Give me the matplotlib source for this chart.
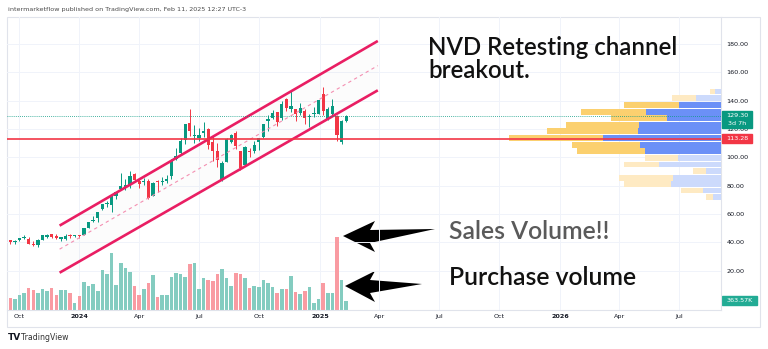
import matplotlib
matplotlib.use('Agg')
import matplotlib.pyplot as plt
import matplotlib.dates as mdates
import matplotlib.transforms as mtransforms
from matplotlib.patches import Polygon, Rectangle
import pandas as pd

W, H = 768, 349

# ---------------- data ----------------
week_start = '2023-09-18'
opens = [41.5, 40.2, 41.5, 43.0, 42.6, 39.1, 37.9, 42.1, 44.2, 45.8,
         44.3, 42.3, 42.8, 45.6, 44.5, 45.0, 45.2, 50.5, 55.3, 57.4,
         63.3, 67.4, 66.5, 72.9, 77.9, 79.3, 80.2, 88.0, 83.3, 82.5,
         83.6, 73.0, 83.0, 82.6, 83.2, 86.6, 98.6, 102.8, 112.5, 124.3,
         115.0, 113.9, 117.4, 120.0, 110.9, 104.3, 84.3, 96.6, 111.2, 117.3,
         104.7, 94.8, 104.7, 104.5, 111.0, 114.2, 125.8, 127.8, 132.0, 128.0,
         141.1, 133.9, 134.3, 131.3, 132.4, 128.7, 130.7, 130.9, 145.0, 126.6,
         130.3, 129.0, 111.1, 125.8]
highs = [42.0, 41.5, 43.5, 45.2, 44.2, 41.1, 42.2, 45.3, 46.3, 46.2,
         46.3, 44.1, 46.3, 45.8, 45.2, 45.1, 50.2, 54.6, 58.5, 61.3,
         66.9, 69.3, 73.4, 75.9, 89.0, 84.5, 90.1, 88.8, 85.1, 85.2,
         84.6, 82.9, 84.1, 85.9, 87.4, 98.6, 106.7, 113.4, 123.4, 134.0,
         122.7, 120.6, 125.0, 120.8, 114.9, 110.3, 97.5, 113.6, 116.3, 118.8,
         104.7, 108.2, 106.3, 111.9, 114.0, 123.4, 129.9, 133.7, 132.1, 139.7,
         142.0, 146.7, 134.4, 138.6, 133.8, 130.5, 135.3, 140.7, 149.4, 135.2,
         140.9, 130.0, 126.2, 129.9]
lows = [39.0, 38.8, 40.8, 42.2, 39.0, 37.4, 36.7, 41.9, 43.5, 43.4,
        42.4, 41.4, 41.7, 43.4, 44.1, 43.2, 45.0, 50.1, 54.4, 54.6,
        62.6, 65.0, 61.2, 71.0, 77.3, 77.1, 78.6, 82.9, 78.5, 80.8,
        70.9, 72.9, 75.5, 80.8, 82.3, 85.0, 98.2, 102.1, 109.3, 115.2,
        110.2, 111.6, 114.7, 105.7, 97.7, 93.0, 83.1, 96.5, 110.4, 105.6,
        91.1, 93.8, 100.4, 103.4, 104.9, 113.7, 118.6, 127.3, 122.0, 126.5,
        132.9, 131.7, 125.4, 130.1, 123.3, 121.7, 128.5, 130.7, 130.2, 126.1,
        129.6, 111.5, 109.4, 125.0]
closes = [40.2, 41.2, 43.4, 43.1, 39.1, 38.3, 42.1, 45.2, 45.2, 43.7,
          42.9, 44.1, 44.9, 44.4, 44.8, 44.9, 50.0, 54.6, 56.2, 61.3,
          66.9, 67.4, 72.8, 75.9, 80.0, 80.7, 87.2, 83.8, 81.2, 82.8,
          71.5, 82.0, 82.5, 83.5, 85.1, 98.2, 101.0, 111.9, 123.3, 118.4,
          115.3, 116.1, 118.5, 108.4, 104.2, 98.4, 95.9, 113.3, 115.7, 108.1,
          92.8, 107.6, 103.9, 108.8, 113.9, 123.2, 127.2, 131.0, 125.0, 137.7,
          134.7, 136.2, 130.8, 134.7, 127.9, 129.1, 131.4, 140.3, 132.6, 134.1,
          135.9, 115.9, 125.7, 129.3]
volume_k = [455, 429, 585, 676, 845, 780, 676, 806, 754, 871,
            585, 780, 780, 650, 260, 546, 1105, 936, 1014, 754,
            1586, 1430, 2249, 975, 1859, 1664, 1495, 936, 585, 819,
            1040, 1365, 520, 585, 585, 1300, 1456, 1430, 1300, 1820,
            1859, 806, 1235, 1170, 1131, 1430, 1625, 1235, 936, 1456,
            1430, 1274, 845, 936, 884, 1170, 1066, 884, 650, 819,
            819, 1339, 689, 624, 741, 884, 260, 416, 1066, 676,
            676, 2860, 1170, 364]

tick_dates = ['2023-10-01', '2024-01-01', '2024-04-01', '2024-07-01', '2024-10-01',
              '2025-01-01', '2025-04-01', '2025-07-01', '2025-10-01', '2026-01-01',
              '2026-04-01', '2026-07-01']
tick_labels = ['Oct', '2024', 'Apr', 'Jul', 'Oct', '2025', 'Apr', 'Jul', 'Oct', '2026', 'Apr', 'Jul']
price_ticks = [20, 40, 60, 80, 100, 120, 140, 160, 180]

channel_dates = ['2023-12-02', '2025-03-30']
channel_upper = [51.9, 182.1]
channel_lower = [18.7, 147.3]

support_level = 113.28
last_price = 129.30
countdown = '3d 7h'
last_volume_label = '363.57K'

vp_prices = [146.5, 142.1, 137.0, 132.3, 127.6, 123.1, 118.4, 113.7, 109.0,
             104.3, 99.6, 95.0, 90.4, 85.7, 81.1, 76.7, 72.3]
vp_up = [5.7, 24.7, 41.7, 75, 53.7, 81.7, 83.4, 117.7, 81, 76, 42.7, 61.7,
         15, 48.4, 50, 18.4, 8.4]
vp_down = [5, 24, 55, 65, 56.3, 73.3, 91, 94.7, 67.7, 68, 33.3, 35, 12.7,
           54, 46.7, 21.6, 6.6]
vp_in_value_area = [False, False, True, True, True, True, True, True, True,
                    True, False, False, False, False, False, False, False]

header = 'intermarketflow published on TradingView.com, Feb 11, 2025 12:27 UTC-3'

# ---------------- helpers ----------------
def fx(px):
    return px / W

def fy(py):
    return 1 - py / H

UP = '#089981'
DOWN = '#f23645'
CHAN = '#e91e63'
TXT = '#131722'
BIG = ['Lato', 'DejaVu Sans']

dates = pd.date_range(week_start, periods=len(closes), freq='7D')
xd = mdates.date2num(dates.to_pydatetime())

fig = plt.figure(figsize=(W / 100, H / 100), dpi=100)
fig.patch.set_facecolor('white')
rect = [fx(7), fy(310), (721 - 7) / W, (310 - 17) / H]

x0 = mdates.date2num(pd.Timestamp('2023-09-13'))
x1 = mdates.date2num(pd.Timestamp('2026-09-03'))
ylo, yhi = -7.6, 199.0

ax_vol = fig.add_axes(rect, zorder=1)
ax = fig.add_axes(rect, zorder=2)
ax_vp = fig.add_axes(rect, zorder=3)

# volume pane (bottom layer)
ax_vol.set_xlim(x0, x1)
ax_vol.set_ylim(0, max(volume_k) / 0.249)
ax_vol.axis('off')
tdates = mdates.date2num(pd.to_datetime(tick_dates).to_pydatetime())
for t in tdates:
    ax_vol.axvline(t, color='#f0f3fa', lw=0.7, zorder=0)
blend = mtransforms.blended_transform_factory(ax_vol.transAxes, ax.transData)
for p in price_ticks:
    ax_vol.plot([0, 1], [p, p], color='#f0f3fa', lw=0.7, transform=blend, zorder=0)
vcol = ['#84ccc0' if c >= o else '#f99ba2' for o, c in zip(opens, closes)]
ax_vol.bar(xd, volume_k, width=5.4, color=vcol, zorder=1)

# price pane
ax.set_xlim(x0, x1)
ax.set_ylim(ylo, yhi)
ax.patch.set_visible(False)
ccol = [UP if c >= o else DOWN for o, c in zip(opens, closes)]
ax.vlines(xd, lows, highs, colors=ccol, lw=0.7, zorder=3)
bodies_bottom = [min(o, c) for o, c in zip(opens, closes)]
bodies_h = [max(abs(c - o), 0.6) for o, c in zip(opens, closes)]
ax.bar(xd, bodies_h, bottom=bodies_bottom, width=5.0, color=ccol, zorder=4)

cd = mdates.date2num(pd.to_datetime(channel_dates).to_pydatetime())
channel_mid = [(u + l) / 2 for u, l in zip(channel_upper, channel_lower)]
ax.fill_between(cd, channel_lower, channel_upper, color='#9598a1', alpha=0.022, lw=0, zorder=2)
ax.plot(cd, channel_upper, color=CHAN, lw=1.9, solid_capstyle='butt', zorder=5)
ax.plot(cd, channel_lower, color=CHAN, lw=1.9, solid_capstyle='butt', zorder=5)
ax.plot(cd, channel_mid, color='#f48fb1', lw=0.8, dashes=(3, 3), zorder=5)

ax.set_xticks(tdates)
ax.set_xticklabels(tick_labels)
for lab in ax.get_xticklabels():
    if lab.get_text().startswith('20'):
        lab.set_fontweight('bold')
ax.tick_params(axis='x', length=0, pad=3.2, labelsize=4.6, colors=TXT)
ax.yaxis.tick_right()
ax.set_yticks(price_ticks)
ax.set_yticklabels(['%.2f' % p for p in price_ticks])
ax.tick_params(axis='y', length=0, pad=4, labelsize=4.6, colors=TXT)
for s in ['left', 'top']:
    ax.spines[s].set_visible(False)
for s in ['right', 'bottom']:
    ax.spines[s].set_color('#e0e3eb')
    ax.spines[s].set_linewidth(0.8)

# volume profile + horizontal lines (top layer)
ax_vp.set_xlim(714, 0)
ax_vp.set_ylim(ylo, yhi)
ax_vp.axis('off')
row_h = 4.15
for p, u, d, va in zip(vp_prices, vp_up, vp_down, vp_in_value_area):
    cu = '#6b90f7' if va else '#ccdafc'
    cdn = '#fbd06f' if va else '#feeac3'
    ax_vp.barh(p, u, height=row_h, left=0, color=cu, lw=0)
    ax_vp.barh(p, d, height=row_h, left=u, color=cdn, lw=0)
ax_vp.axhline(last_price, color=UP, lw=0.6, ls=(0, (1, 1.5)), zorder=6)
ax_vp.axhline(support_level, color=DOWN, lw=1.2, zorder=7)

# right-axis labels
ppx = 1 / 1.418
yt = mtransforms.blended_transform_factory(ax_vp.transAxes, ax_vp.transData)
def axfrac(px):
    return (px - 7) / 714
ax_vp.add_patch(Rectangle((axfrac(722), support_level - 4.7 * ppx), 30 / 714, 9.4 * ppx,
                          transform=yt, color=DOWN, clip_on=False, zorder=10))
ax_vp.text(axfrac(737), support_level, '%.2f' % support_level, transform=yt, color='white',
           fontsize=4.6, ha='center', va='center', clip_on=False, zorder=11)
ax_vp.add_patch(Rectangle((axfrac(722), last_price - 12 * ppx), 30 / 714, 17 * ppx,
                          transform=yt, color=UP, clip_on=False, zorder=10))
ax_vp.text(axfrac(737), last_price, '%.2f' % last_price, transform=yt, color='white',
           fontsize=4.6, ha='center', va='center', clip_on=False, zorder=11)
ax_vp.text(axfrac(737), last_price - 7.3 * ppx, countdown, transform=yt, color='white',
           fontsize=4.6, ha='center', va='center', clip_on=False, zorder=11)
vt = mtransforms.blended_transform_factory(ax_vol.transAxes, ax_vol.transData)
vpx = (max(volume_k) / 0.249) / 293
ax_vol.add_patch(Rectangle((axfrac(722), volume_k[-1] - 4.7 * vpx), 35 / 714, 9.4 * vpx,
                           transform=vt, color='#22ab94', clip_on=False, zorder=10))
ax_vol.text(axfrac(739.5), volume_k[-1], last_volume_label, transform=vt, color='white',
            fontsize=4.6, ha='center', va='center', clip_on=False, zorder=11)

# outer frame
fig.add_artist(Rectangle((fx(7), fy(327)), (760 - 7) / W, (327 - 17) / H,
                         transform=fig.transFigure, fill=False, ec='#e0e3eb', lw=0.8))

# texts
fig.text(fx(8), fy(10), header, fontsize=4.6, color='#4a4a4a', va='center')
fig.text(fx(428), fy(55), 'NVD Retesting channel', fontsize=17.3, family=BIG,
         fontweight='semibold', color='#111111', va='baseline')
fig.text(fx(428), fy(78), 'breakout.', fontsize=17.3, family=BIG,
         fontweight='semibold', color='#111111', va='baseline')
fig.text(fx(449), fy(239), 'Sales Volume!!', fontsize=17.8, family=BIG,
         fontweight='semibold', color='#5a5a5a', va='baseline')
fig.text(fx(449), fy(285), 'Purchase volume', fontsize=17.8, family=BIG,
         fontweight='semibold', color='#111111', va='baseline')
fig.text(fx(8), fy(338), 'TV', fontsize=6.5, fontweight='bold', color='#131722', va='center')
fig.text(fx(21), fy(338), 'TradingView', fontsize=5.6, color='#333333', va='center')

# arrows
def arrow(pts):
    fig.add_artist(Polygon([(fx(a), fy(b)) for a, b in pts], closed=True,
                           transform=fig.transFigure, color='black', lw=0))

arrow([(343, 236), (375, 221), (370, 230), (435, 229), (370, 243), (375, 252)])
arrow([(345, 286), (375, 271), (370, 280), (422, 284), (370, 293), (375, 302)])

fig.savefig('out.png', dpi=100, facecolor='white')
